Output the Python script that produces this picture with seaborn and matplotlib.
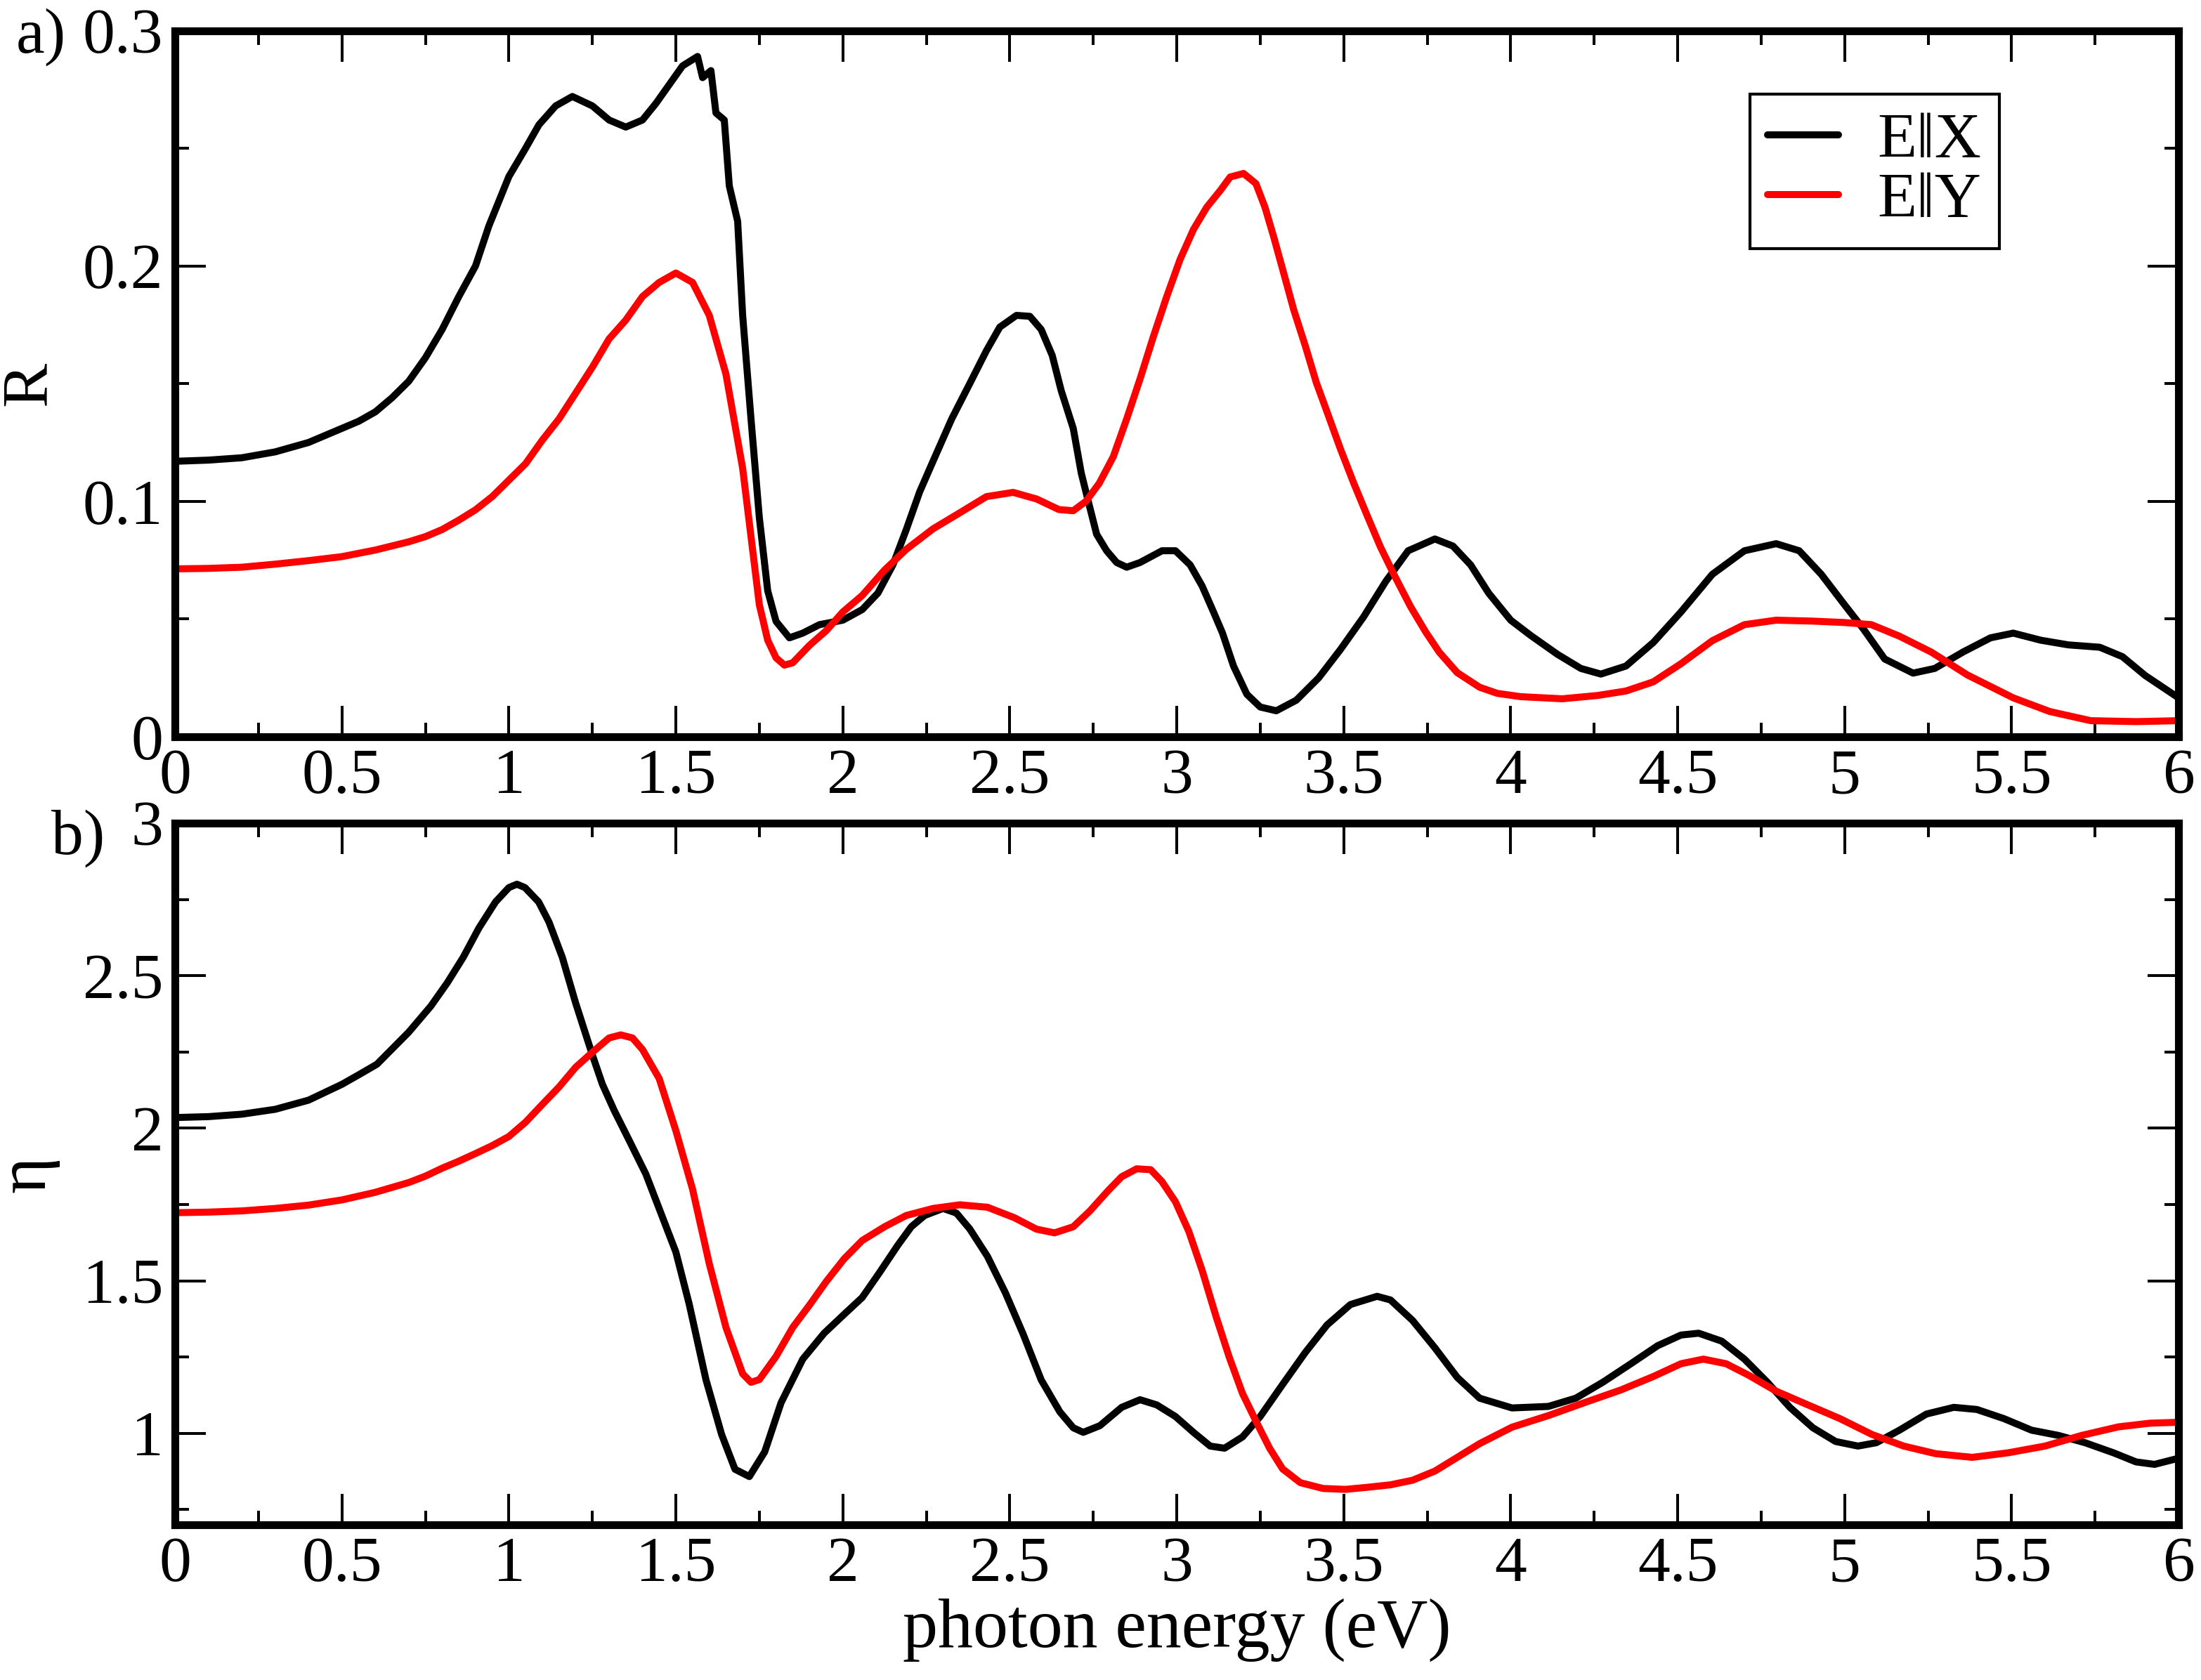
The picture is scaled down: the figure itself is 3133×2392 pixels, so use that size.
import matplotlib
matplotlib.use("Agg")
import matplotlib.pyplot as plt
from matplotlib.ticker import MultipleLocator, FormatStrFormatter
import seaborn as sns

# a) reflectivity R, E parallel X (black) and E parallel Y (red)
e_rx = [0.0, 0.1, 0.2, 0.3, 0.4, 0.5, 0.55, 0.6, 0.65, 0.7, 0.75, 0.8, 0.85, 0.9, 0.94, 1.0, 1.05, 1.09,
        1.14, 1.19, 1.25, 1.3, 1.35, 1.4,
        1.44, 1.49, 1.52, 1.565, 1.58, 1.605, 1.62, 1.645, 1.66, 1.685, 1.7, 1.725, 1.75, 1.775, 1.8, 1.84,
        1.88, 1.93, 2.0, 2.058, 2.105, 2.15, 2.19, 2.23, 2.27, 2.326, 2.38, 2.43, 2.47, 2.52, 2.56, 2.594,
        2.627, 2.654, 2.69, 2.714, 2.735, 2.76, 2.79, 2.82, 2.85, 2.89, 2.956, 2.996, 3.04, 3.076, 3.11,
        3.137, 3.17, 3.21, 3.25, 3.298, 3.358, 3.425, 3.49, 3.56, 3.626, 3.693, 3.773, 3.827, 3.88, 3.934,
        4.0, 4.06, 4.14, 4.21, 4.27, 4.345, 4.427, 4.51, 4.604, 4.7, 4.795, 4.864, 4.93, 5.0, 5.055, 5.12,
        5.205, 5.27, 5.355, 5.437, 5.505, 5.587, 5.67, 5.764, 5.832, 5.9, 6.0]
r_x = [0.117, 0.1175, 0.1185, 0.121, 0.125, 0.131, 0.134, 0.138, 0.144, 0.151, 0.161, 0.173, 0.187, 0.2,
       0.217, 0.238, 0.25, 0.26, 0.268, 0.272, 0.268,
       0.262, 0.259, 0.262, 0.269, 0.279, 0.285, 0.289, 0.28, 0.283, 0.265, 0.262, 0.234, 0.219, 0.179,
       0.135, 0.093, 0.062, 0.049, 0.042, 0.044, 0.0476, 0.0495, 0.054, 0.061, 0.073, 0.088, 0.104, 0.117,
       0.135, 0.15, 0.164, 0.174, 0.179, 0.1786, 0.173, 0.162, 0.147, 0.131, 0.112, 0.1, 0.086, 0.079,
       0.074, 0.072, 0.074, 0.079, 0.079, 0.073, 0.064, 0.053, 0.044, 0.03, 0.018, 0.0126, 0.011, 0.0155,
       0.025, 0.037, 0.051, 0.066, 0.079, 0.084, 0.081, 0.073, 0.061, 0.0495, 0.043, 0.035, 0.029, 0.0266,
       0.03, 0.04, 0.053, 0.069, 0.079, 0.082, 0.079, 0.069, 0.056, 0.046, 0.033, 0.027, 0.029, 0.036,
       0.042, 0.044, 0.041, 0.039, 0.038, 0.034, 0.026, 0.0165]

e_ry = [0.0, 0.1, 0.2, 0.3, 0.4, 0.5, 0.6, 0.7, 0.75, 0.8, 0.85, 0.9, 0.95, 1.0, 1.05, 1.1, 1.15, 1.2, 1.25,
        1.3, 1.35, 1.4, 1.45, 1.5, 1.55, 1.6,
        1.65, 1.7, 1.725, 1.75, 1.775, 1.8, 1.825, 1.85, 1.9, 1.95, 2.0, 2.058, 2.125, 2.19, 2.27, 2.35,
        2.43, 2.51, 2.58, 2.647, 2.69, 2.728, 2.768, 2.81, 2.85, 2.89, 2.93, 2.97, 3.01, 3.05, 3.09, 3.13,
        3.16, 3.2, 3.237, 3.264, 3.29, 3.324, 3.35, 3.385, 3.418, 3.45, 3.49, 3.53, 3.57, 3.61, 3.65, 3.7,
        3.745, 3.786, 3.84, 3.907, 3.96, 4.03, 4.154, 4.26, 4.345, 4.427, 4.51, 4.604, 4.7, 4.795, 4.905,
        5.0, 5.08, 5.164, 5.26, 5.368, 5.505, 5.614, 5.737, 5.873, 6.0]
r_y = [0.0713, 0.0715, 0.072, 0.0733, 0.0748, 0.0765, 0.0793, 0.0828, 0.085, 0.088, 0.092, 0.0964, 0.102,
       0.109, 0.116, 0.126, 0.135, 0.146, 0.157, 0.169,
       0.177, 0.187, 0.193, 0.197, 0.193, 0.179, 0.154, 0.114, 0.085, 0.056, 0.041, 0.0335, 0.0304,
       0.0314, 0.0388, 0.045, 0.053, 0.06, 0.0708, 0.0796, 0.0883, 0.0951, 0.102, 0.1038, 0.101, 0.0965,
       0.096, 0.1, 0.1077, 0.119, 0.135, 0.152, 0.17, 0.187, 0.2028, 0.2155, 0.225, 0.232, 0.2378, 0.2393,
       0.235, 0.225, 0.2125, 0.195, 0.1815, 0.166, 0.1504, 0.138, 0.1223, 0.1077, 0.094, 0.0806, 0.069,
       0.0553, 0.0446, 0.0359, 0.0272, 0.021, 0.0184, 0.017, 0.0161, 0.0175, 0.0194, 0.0233, 0.031,
       0.0408, 0.0476, 0.0495, 0.0491, 0.0485, 0.0476, 0.0427, 0.0359, 0.0262, 0.0165, 0.0107, 0.0068,
       0.0064, 0.0068]

# b) refractive index eta
e_nx = [0.0, 0.1, 0.2, 0.3, 0.4, 0.5, 0.55, 0.605, 0.7, 0.766, 0.815, 0.863, 0.91, 0.96, 1.0, 1.024, 1.048,
        1.089, 1.12, 1.16,
        1.2, 1.25, 1.28, 1.315, 1.363, 1.41, 1.46, 1.5, 1.54, 1.59, 1.637, 1.677, 1.72, 1.766, 1.815, 1.88,
        1.944, 2.004, 2.058, 2.11, 2.165, 2.205, 2.245, 2.3, 2.34, 2.38, 2.433, 2.487, 2.54, 2.594, 2.65,
        2.69, 2.72, 2.77, 2.835, 2.89, 2.94, 2.996, 3.05, 3.1, 3.143, 3.197, 3.25, 3.317, 3.385, 3.45, 3.52,
        3.6, 3.64, 3.706, 3.773, 3.84, 3.907, 4.004, 4.113, 4.195, 4.277, 4.36, 4.44, 4.51, 4.563, 4.632,
        4.7, 4.768, 4.836, 4.905, 4.973, 5.04, 5.095, 5.164, 5.245, 5.327, 5.396, 5.477, 5.56, 5.64, 5.72,
        5.805, 5.873, 5.928, 6.0]
n_x = [2.035, 2.038, 2.046, 2.062, 2.092, 2.144, 2.175, 2.21, 2.315, 2.4, 2.476, 2.56, 2.656, 2.742, 2.789,
       2.8, 2.789, 2.742, 2.676,
       2.56, 2.41, 2.24, 2.144, 2.059, 1.954, 1.85, 1.708, 1.594, 1.423, 1.176, 0.996, 0.882, 0.858, 0.939,
       1.1, 1.243, 1.328, 1.39, 1.445, 1.527, 1.617, 1.677, 1.714, 1.737, 1.722, 1.67, 1.58, 1.46, 1.325,
       1.175, 1.07, 1.018, 1.003, 1.025, 1.085, 1.11, 1.093, 1.055, 1.003, 0.958, 0.951, 0.988, 1.055,
       1.16, 1.265, 1.355, 1.422, 1.449, 1.437, 1.37, 1.28, 1.183, 1.115, 1.083, 1.088, 1.115, 1.168,
       1.228, 1.287, 1.322, 1.328, 1.302, 1.243, 1.168, 1.085, 1.018, 0.973, 0.958, 0.969, 1.01, 1.063,
       1.085, 1.078, 1.048, 1.01, 0.993, 0.969, 0.936, 0.906, 0.898, 0.918]

e_ny = [0.0, 0.1, 0.2, 0.3, 0.4, 0.5, 0.6, 0.7, 0.75, 0.8, 0.85, 0.9, 0.95, 1.0, 1.05, 1.1, 1.15, 1.2, 1.25,
        1.3, 1.335, 1.37, 1.4, 1.45, 1.5,
        1.55, 1.6, 1.65, 1.7, 1.725, 1.75, 1.8, 1.85, 1.9, 1.95, 2.004, 2.058, 2.125, 2.19, 2.27, 2.35,
        2.433, 2.513, 2.58, 2.634, 2.69, 2.74, 2.795, 2.835, 2.88, 2.922, 2.955, 2.996, 3.036, 3.076, 3.117,
        3.157, 3.197, 3.237, 3.278, 3.317, 3.37, 3.438, 3.505, 3.572, 3.64, 3.706, 3.773, 3.84, 3.907,
        4.004, 4.113, 4.22, 4.33, 4.427, 4.51, 4.577, 4.645, 4.713, 4.795, 4.89, 4.986, 5.082, 5.177,
        5.273, 5.382, 5.49, 5.6, 5.71, 5.82, 5.914, 6.0]
n_y = [1.723, 1.725, 1.729, 1.737, 1.748, 1.765, 1.79, 1.822, 1.843, 1.869, 1.892, 1.917, 1.943, 1.973,
       2.02, 2.078, 2.135, 2.2, 2.249, 2.296, 2.306,
       2.296, 2.258, 2.163, 1.992, 1.8, 1.556, 1.347, 1.195, 1.167, 1.176, 1.252, 1.347, 1.42, 1.497,
       1.572, 1.632, 1.677, 1.714, 1.737, 1.749, 1.741, 1.707, 1.669, 1.657, 1.677, 1.729, 1.796, 1.841,
       1.867, 1.864, 1.826, 1.759, 1.662, 1.534, 1.385, 1.25, 1.13, 1.04, 0.951, 0.883, 0.838, 0.819,
       0.816, 0.823, 0.831, 0.846, 0.876, 0.921, 0.966, 1.02, 1.058, 1.1, 1.142, 1.186, 1.228, 1.243,
       1.228, 1.19, 1.138, 1.093, 1.048, 0.996, 0.958, 0.933, 0.921, 0.936, 0.958, 0.993, 1.021, 1.033,
       1.036]

labels = ["E\u2016X", "E\u2016Y"]

sns.set_style("ticks")
plt.rcParams["font.family"] = ["Liberation Serif", "DejaVu Serif"]
plt.rcParams["text.color"] = "black"
plt.rcParams["axes.labelcolor"] = "black"
plt.rcParams["xtick.color"] = "black"
plt.rcParams["ytick.color"] = "black"

fs = 33
lw = 3.6
fig = plt.figure(figsize=(3133 / 200, 2392 / 200), dpi=200)
ax1 = fig.add_axes([0.0795, 0.5615, 0.9103, 0.4203])
ax2 = fig.add_axes([0.0795, 0.0924, 0.9103, 0.4176])

sns.lineplot(x=e_rx, y=r_x, color="black", lw=lw, label=labels[0], ax=ax1, estimator=None, sort=False)
sns.lineplot(x=e_ry, y=r_y, color="red", lw=lw, label=labels[1], ax=ax1, estimator=None, sort=False)
sns.lineplot(x=e_nx, y=n_x, color="black", lw=lw, ax=ax2, estimator=None, sort=False)
sns.lineplot(x=e_ny, y=n_y, color="red", lw=lw, ax=ax2, estimator=None, sort=False)

ax1.set_ylim(0, 0.3)
ax2.set_ylim(0.7, 3)
ax1.yaxis.set_major_locator(MultipleLocator(0.1))
ax1.yaxis.set_minor_locator(MultipleLocator(0.05))
ax2.yaxis.set_major_locator(MultipleLocator(0.5))
ax2.yaxis.set_minor_locator(MultipleLocator(0.25))

for ax in (ax1, ax2):
    ax.set_xlim(0, 6)
    ax.xaxis.set_major_locator(MultipleLocator(0.5))
    ax.xaxis.set_minor_locator(MultipleLocator(0.25))
    ax.xaxis.set_major_formatter(FormatStrFormatter("%g"))
    ax.yaxis.set_major_formatter(FormatStrFormatter("%g"))
    ax.tick_params(which="both", direction="in", top=True, right=True, width=1.45,
                   labelsize=fs, colors="black", labelcolor="black")
    ax.tick_params(which="major", length=16, pad=6)
    ax.tick_params(which="minor", length=7.2)
    for s in ax.spines.values():
        s.set_linewidth(4)
        s.set_color("black")
    ax.set_xlabel("")

ax1.set_ylabel("R", fontsize=fs + 1, labelpad=12, color="black")
ax2.set_ylabel("\u03b7", fontsize=fs + 3, labelpad=12, color="black")
ax2.set_xlabel("photon energy (eV)", fontsize=fs + 3, labelpad=2, color="black")

leg = ax1.legend(loc="upper left", bbox_to_anchor=(0.786, 0.91), borderaxespad=0, fontsize=fs,
                 frameon=True, fancybox=False, handlelength=1.1, handletextpad=0.6,
                 labelspacing=0.02, borderpad=0.28)
leg.get_frame().set_edgecolor("black")
leg.get_frame().set_linewidth(1.5)
leg.get_frame().set_alpha(1)
for t in leg.get_texts():
    t.set_color("black")

fig.text(0.0073, 0.969, "a)", fontsize=fs, va="baseline", ha="left", color="black")
fig.text(0.0233, 0.492, "b)", fontsize=fs, va="baseline", ha="left", color="black")

fig.savefig("out.png", dpi=200)
